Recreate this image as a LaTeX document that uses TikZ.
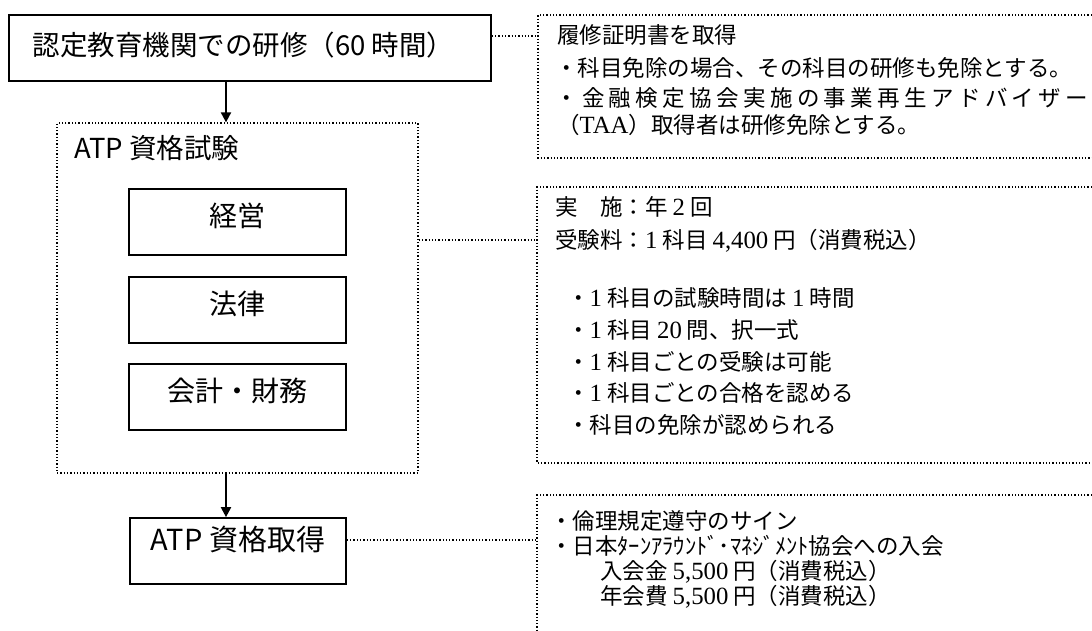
\documentclass[tikz,border=0pt]{standalone}
\usepackage{fontspec}
\setmainfont{Noto Sans CJK JP}
\newfontfamily\latser[Scale=1.1]{Liberation Serif}
\newcommand\Lt[1]{{\latser\relax#1}}
\usetikzlibrary{arrows.meta}
\begin{document}
\begin{tikzpicture}[x=1pt,y=-1pt,
  solidbox/.style={draw, line width=1.7pt, minimum height=66pt, inner sep=0pt, font=\fontsize{28}{34}\selectfont},
  dotline/.style={line width=1.3pt, dash pattern=on 1.3pt off 2pt},
  arrowline/.style={line width=2pt, -{Triangle[length=10pt,width=10pt]}},
  info/.style={anchor=base west, inner sep=0pt, font=\fontsize{22.5}{26}\selectfont},
]
\useasboundingbox (0,0) rectangle (1092,630);
\fill[white] (0,0) rectangle (1092,630);

% left column
\node[solidbox, minimum width=482pt, font=\fontsize{27.5}{34}\selectfont,
      text height=18pt, text depth=2.7pt] (top) at (250,48) {認定教育機関での研修（60 時間）\hspace*{13pt}};
\node[draw, dotline, minimum width=361pt, minimum height=350pt] (exam) at (237.5,298) {};
\node[anchor=base west, inner sep=0pt, font=\fontsize{27.5}{32}\selectfont] (examtitle) at (74,158.6) {ATP 資格試験};
\node[solidbox, minimum width=217pt, text height=15pt, text depth=5.7pt] (keiei) at (237.5,222) {経営};
\node[solidbox, minimum width=217pt, text height=15pt, text depth=5.7pt] (houritsu) at (237.5,310) {法律};
\node[solidbox, minimum width=217pt, text height=15pt, text depth=5.7pt] (kaikei) at (237.5,397) {会計・財務};
\node[solidbox, minimum width=216pt, font=\fontsize{29}{34}\selectfont, text height=12pt, text depth=12.7pt] (atp) at (238,551) {ATP 資格取得};

\coordinate (ax) at (226,0);
\draw[arrowline] (top.south -| ax) -- (exam.north -| ax);
\draw[arrowline] (exam.south -| ax) -- (atp.north -| ax);

% right frames
\coordinate (f1t) at (538,15);
\coordinate (f1b) at (538,158);
\draw[dotline] (1092,15) -- (f1t) -- (f1b) -- (1092,158);
\coordinate (f2t) at (537,187);
\coordinate (f2b) at (537,463);
\draw[dotline] (1092,187) -- (f2t) -- (f2b) -- (1092,463);
\coordinate (f3t) at (537,495);
\draw[dotline] (1092,495) -- (f3t) -- (537,630);

% connectors
\coordinate (c1) at (538,36);
\draw[dotline] (top.east |- c1) -- (c1);
\coordinate (c2) at (537,240);
\draw[dotline] (exam.east |- c2) -- (c2);
\coordinate (c3) at (537,540);
\draw[dotline] (atp.east |- c3) -- (c3);

% box 1 text
\node[info] (i1a) at (557,43.4) {履修証明書を取得};
\node[info] (i1b) at (555,76.4) {・科目免除の場合、その科目の研修も免除とする。};
\node[info] (i1c) at (555,106.4) {\makebox[533pt][s]{・\hfill 金\hfill 融\hfill 検\hfill 定\hfill 協\hfill 会\hfill 実\hfill 施\hfill の\hfill 事\hfill 業\hfill 再\hfill 生\hfill ア\hfill ド\hfill バ\hfill イ\hfill ザ\hfill ー}};
\node[info] (i1d) at (557,133.4) {（\Lt{TAA}）取得者は研修免除とする。};

% box 2 text
\node[info] (i2a) at (555,215.4) {実　施：年 \Lt{2} 回};
\node[info] (i2b) at (555,248.4) {受験料：\Lt{1} 科目 \Lt{4,400} 円（消費税込）};
\node[info] (i2c) at (567,306.4) {・\Lt{1} 科目の試験時間は \Lt{1} 時間};
\node[info] (i2d) at (567,338.4) {・\Lt{1} 科目 \Lt{20} 問、択一式};
\node[info] (i2e) at (567,370.4) {・\Lt{1} 科目ごとの受験は可能};
\node[info] (i2f) at (567,401.4) {・\Lt{1} 科目ごとの合格を認める};
\node[info] (i2g) at (567,433.4) {・科目の免除が認められる};

% box 3 text
\node[info] (i3a) at (550,529.4) {・倫理規定遵守のサイン};
\node[info] (i3b) at (550,554.4) {・日本ﾀｰﾝｱﾗｳﾝﾄﾞ･ﾏﾈｼﾞﾒﾝﾄ協会への入会};
\node[info] (i3c) at (600,579.4) {入会金 \Lt{5,500} 円（消費税込）};
\node[info] (i3d) at (600,604.4) {年会費 \Lt{5,500} 円（消費税込）};
\end{tikzpicture}
\end{document}
